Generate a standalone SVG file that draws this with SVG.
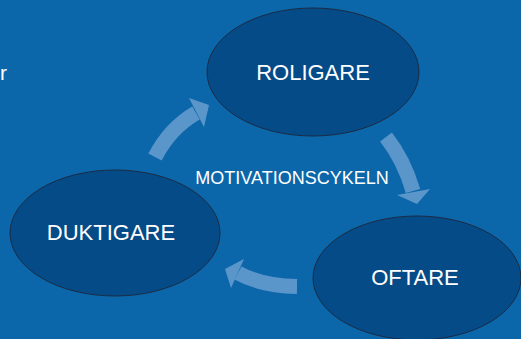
<svg xmlns="http://www.w3.org/2000/svg" width="521" height="339" viewBox="0 0 521 339">
<style>
.node{fill:#054b87;stroke:#1b2b44;stroke-width:1}
.lbl{fill:#ffffff;font-family:"Liberation Sans",Arial,sans-serif;text-anchor:middle}
.shaft{fill:none;stroke:#5b96cb;stroke-width:15}
.head{fill:#5b96cb}
</style>
<rect width="521" height="339" fill="#0b67a9"/>
<text x="0" y="80" class="lbl" style="text-anchor:start;font-size:21px">r</text>
<g id="connectors">
<path class="shaft" d="M155,157 Q170,128 196,113"/>
<polygon class="head" points="189,98 209,105 204,127"/>
<path class="shaft" d="M386,137 Q404,160 413,191"/>
<polygon class="head" points="397,195 430,189 417,204"/>
<path class="shaft" d="M297,286.5 Q262,286 238,273"/>
<polygon class="head" points="244,259 225,269 231,288"/>
</g>
<g id="roligare">
<ellipse class="node" cx="313" cy="72" rx="106" ry="64"/>
<text class="lbl" x="313" y="80" style="font-size:22px">ROLIGARE</text>
</g>
<g id="duktigare">
<ellipse class="node" cx="115" cy="233" rx="105" ry="63"/>
<text class="lbl" x="111" y="240" style="font-size:22px">DUKTIGARE</text>
</g>
<g id="oftare">
<ellipse class="node" cx="417" cy="278" rx="104" ry="62"/>
<text class="lbl" x="415" y="285" style="font-size:22px">OFTARE</text>
</g>
<g id="motivationscykeln">
<text class="lbl" x="292" y="184" style="font-size:18px">MOTIVATIONSCYKELN</text>
</g>
</svg>
